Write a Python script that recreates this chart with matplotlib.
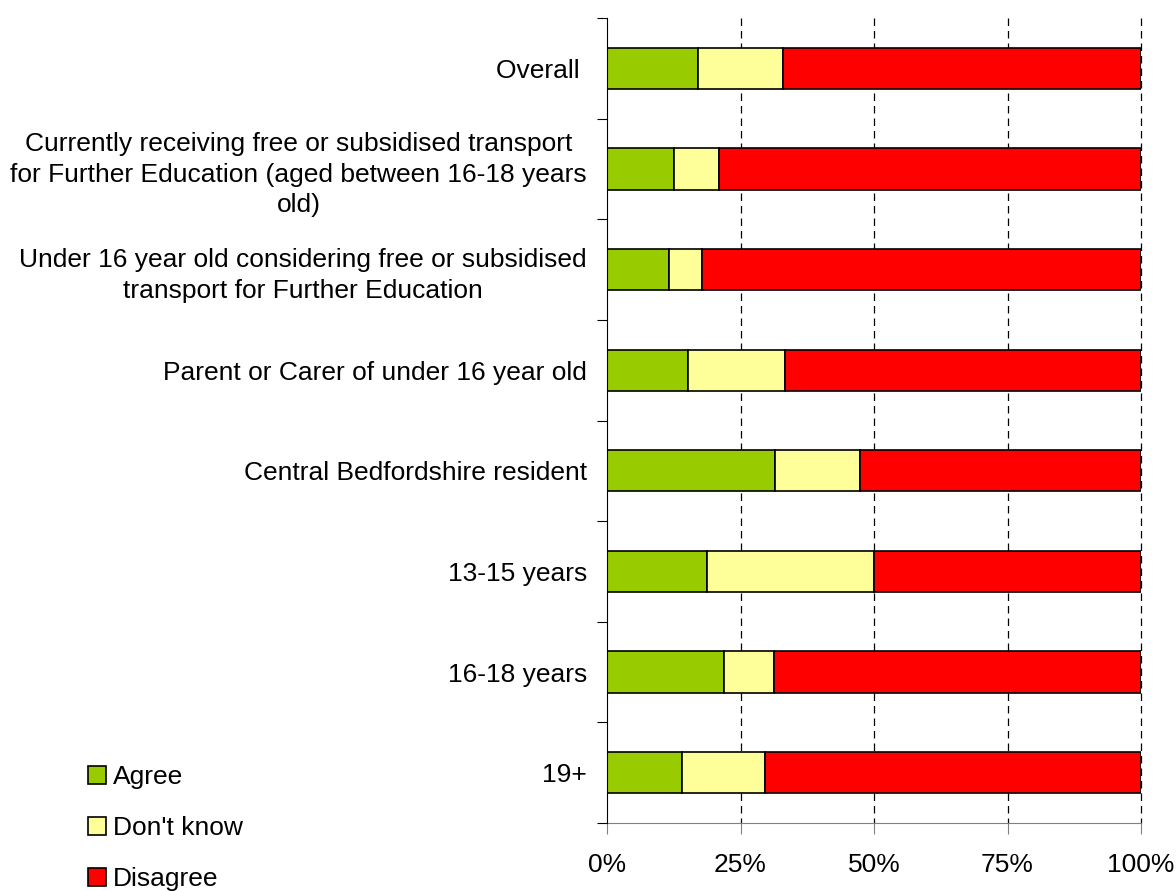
import matplotlib
matplotlib.use("Agg")
import matplotlib.pyplot as plt
from matplotlib.patches import Patch

plt.rcParams['font.family'] = ['Liberation Sans', 'DejaVu Sans']
plt.rcParams['font.size'] = 19

# 数据（从上到下）
categories = [
    "Overall ",
    "Currently receiving free or subsidised transport\nfor Further Education (aged between 16-18 years\nold)",
    "Under 16 year old considering free or subsidised\ntransport for Further Education",
    "Parent or Carer of under 16 year old",
    "Central Bedfordshire resident",
    "13-15 years",
    "16-18 years",
    "19+",
]
agree = [17.0, 12.5, 11.7, 15.2, 31.5, 18.7, 21.9, 14.0]
dont_know = [16.0, 8.4, 6.0, 18.1, 15.8, 31.3, 9.3, 15.6]
disagree = [67.0, 79.1, 82.3, 66.7, 52.7, 50.0, 68.8, 70.4]

series_names = ["Agree", "Don't know", "Disagree"]
colors = ['#99CC00', '#FFFF99', '#FF0000']

fig = plt.figure(figsize=(11.76, 8.91), dpi=100)
ax = fig.add_axes([607 / 1176, 1 - 823 / 891, (1141 - 607) / 1176, (823 - 18) / 891])

y = list(range(len(categories)))
left = [0] * len(categories)
for vals, name, c in zip([agree, dont_know, disagree], series_names, colors):
    ax.barh(y, vals, left=left, height=0.41, color=c, edgecolor='black',
            linewidth=1.2, zorder=3, label=name)
    left = [l + v for l, v in zip(left, vals)]

ax.set_xlim(0, 100)
ax.set_ylim(len(categories) - 0.5, -0.5)

# 竖直虚线网格
ax.vlines([25, 50, 75, 100], -0.5, len(categories) - 0.5, colors='black',
          linestyles=(0, (6, 4)), linewidth=0.9, zorder=1, clip_on=False)

# x轴
ax.set_xticks([0, 25, 50, 75, 100])
ax.set_xticklabels(['0%', '25%', '50%', '75%', '100%'])
ax.tick_params(axis='x', direction='out', length=8, color='#808080', pad=13.5)

# y轴：刻度在分界处，标签在中间
ax.set_yticks([i - 0.5 for i in range(len(categories) + 1)])
ax.set_yticklabels([])
ax.set_yticks(y, minor=True)
ax.set_yticklabels(categories, minor=True, multialignment='center', linespacing=1.35)
ax.tick_params(axis='y', which='major', direction='out', length=7, color='black')
ax.tick_params(axis='y', which='minor', length=0, pad=14.4)

for s in ['top', 'right']:
    ax.spines[s].set_visible(False)
ax.spines['left'].set_color('black')
ax.spines['bottom'].set_color('#808080')
ax.spines['left'].set_zorder(4)

handles = [Patch(facecolor=c, edgecolor='black', linewidth=1.2) for c in colors]
fig.legend(handles, series_names, loc='center left',
           bbox_to_anchor=(88 / 1176, 1 - 828 / 891), frameon=False,
           handlelength=0.68, handleheight=0.68, handletextpad=0.25,
           labelspacing=1.03, borderpad=0, borderaxespad=0)

fig.savefig('out.png', dpi=100)
